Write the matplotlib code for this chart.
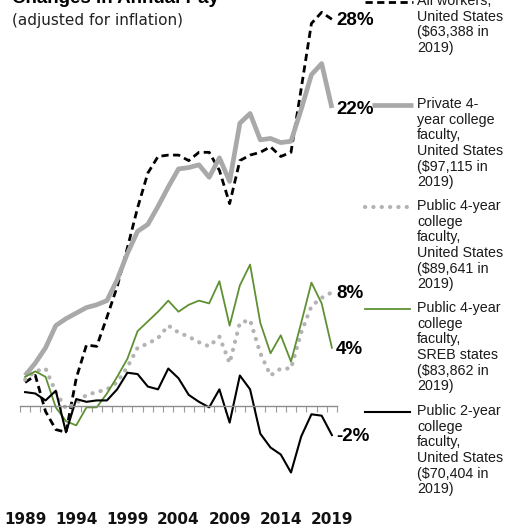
import matplotlib
matplotlib.use('Agg')
import matplotlib.pyplot as plt
import matplotlib.transforms as mtransforms
from matplotlib.lines import Line2D
import numpy as np

years = list(range(1989, 2020))
tick_years = [1989, 1994, 1999, 2004, 2009, 2014, 2019]

# percent change since 1989, adjusted for inflation
all_workers = [1.7, 2.2, -0.4, -1.7, -1.9, 2.0, 4.4, 4.3, 6.4, 8.6,
               11.4, 14.3, 16.8, 18.0, 18.1, 18.1, 17.7, 18.3, 18.3, 17.0,
               14.6, 17.7, 18.1, 18.3, 18.7, 18.0, 18.3, 22.9, 27.6, 28.4, 27.9]
private_4yr = [2.2, 3.1, 4.2, 5.8, 6.3, 6.7, 7.1, 7.3, 7.6, 9.1,
               11.0, 12.6, 13.1, 14.4, 15.8, 17.1, 17.2, 17.4, 16.5, 17.9,
               16.2, 20.4, 21.1, 19.2, 19.3, 19.0, 19.1, 21.4, 23.9, 24.7, 21.5]
public_4yr_us = [1.9, 2.5, 2.7, 1.0, -0.2, 0.2, 0.8, 1.0, 1.2, 1.7,
                 2.8, 4.2, 4.5, 4.9, 5.8, 5.3, 5.0, 4.6, 4.3, 5.0,
                 3.1, 6.0, 6.2, 3.8, 2.2, 2.7, 2.7, 5.3, 7.2, 7.8, 8.2]
public_4yr_sreb = [2.1, 2.5, 2.1, -0.1, -1.1, -1.4, -0.1, -0.1, 0.9, 2.1,
                   3.4, 5.4, 6.1, 6.8, 7.6, 6.8, 7.3, 7.6, 7.4, 9.0,
                   5.8, 8.7, 10.2, 6.0, 3.8, 5.1, 3.2, 6.0, 8.9, 7.4, 4.2]
public_2yr = [1.0, 0.9, 0.4, 1.1, -1.9, 0.5, 0.3, 0.4, 0.4, 1.2,
              2.4, 2.3, 1.4, 1.2, 2.7, 2.0, 0.8, 0.3, -0.1, 1.2,
              -1.2, 2.2, 1.2, -2.0, -3.0, -3.5, -4.8, -2.2, -0.6, -0.7, -2.1]

end_labels = ['28%', '22%', '8%', '4%', '-2%']
legend_texts = [
    'All workers,\nUnited States\n($63,388 in\n2019)',
    'Private 4-\nyear college\nfaculty,\nUnited States\n($97,115 in\n2019)',
    'Public 4-year\ncollege\nfaculty,\nUnited States\n($89,641 in\n2019)',
    'Public 4-year\ncollege\nfaculty,\nSREB states\n($83,862 in\n2019)',
    'Public 2-year\ncollege\nfaculty,\nUnited States\n($70,404 in\n2019)',
]

W, H = 512, 529
fig = plt.figure(figsize=(W / 100, H / 100), dpi=100)
ax = fig.add_axes([20 / W, (H - 503) / H, 317 / W, 499 / H])

x = np.arange(len(years))
gray = '#a9a9a9'
dot_gray = '#b3b3b3'
green = '#5f9133'

styles = [
    dict(color='black', lw=2.0, linestyle=(0, (2.6, 1.6))),
    dict(color=gray, lw=3.4, solid_capstyle='butt'),
    dict(color=dot_gray, lw=3.0, linestyle=(0, (0.05, 1.95)), dash_capstyle='round'),
    dict(color=green, lw=1.3),
    dict(color='black', lw=1.5),
]
series = [all_workers, private_4yr, public_4yr_us, public_4yr_sreb, public_2yr]

for s, st in zip(series, styles):
    ax.plot(x, s, clip_on=False, **st)

# value labels at the end of the lines
for s, lab in zip(series, end_labels):
    ax.annotate(lab, (x[-1], s[-1]), xytext=(3, -1), textcoords='offset points',
                ha='left', va='center', fontsize=13.5, fontweight='bold',
                family=['Liberation Sans', 'DejaVu Sans'])

ax.set_xlim(-0.5, len(years) - 0.5)
ax.set_ylim(-7, 29)
for side in ['top', 'left', 'right']:
    ax.spines[side].set_visible(False)
ax.spines['bottom'].set_position(('data', 0))
ax.spines['bottom'].set_color('#8c8c8c')
ax.spines['bottom'].set_linewidth(1.0)
ax.set_xticks(np.arange(-0.5, len(years), 1))
ax.set_xticklabels([])
ax.tick_params(axis='x', direction='out', length=4, width=0.8, color='#9a9a9a')
ax.set_yticks([])
ax.patch.set_alpha(0)

trans = mtransforms.blended_transform_factory(ax.transData, fig.transFigure)
for yr in tick_years:
    ax.text(years.index(yr), 1 - 520 / H, str(yr), transform=trans,
            ha='center', va='center', fontsize=11, fontweight='bold',
            family=['Liberation Sans Narrow', 'DejaVu Sans'], color='#111111')

# title (cut off at the top edge) and subtitle
fig.text(12 / W, 1 - 3 / H, 'Changes in Annual Pay', ha='left', va='baseline',
         fontsize=13.5, fontweight='bold', family=['Liberation Sans', 'DejaVu Sans'])
fig.text(12 / W, 1 - 20 / H, '(adjusted for inflation)', ha='left', va='center',
         fontsize=11, family=['Liberation Sans Narrow', 'DejaVu Sans'], color='#222222')

# legend on the right
key_y = [2, 105, 207, 309, 412]
key_x = [(365, 413), (372, 413), (365, 410), (365, 410), (365, 410)]
for st, ky, kx, txt in zip(styles, key_y, key_x, legend_texts):
    fig.add_artist(Line2D([kx[0] / W, kx[1] / W], [1 - ky / H, 1 - ky / H],
                          transform=fig.transFigure, **st))
    fig.text(417 / W, 1 - (ky - 8) / H, txt, ha='left', va='top', fontsize=10.3,
             linespacing=1.15, family=['Liberation Sans', 'DejaVu Sans'], color='#1a1a1a')

fig.savefig('out.png', dpi=100)
